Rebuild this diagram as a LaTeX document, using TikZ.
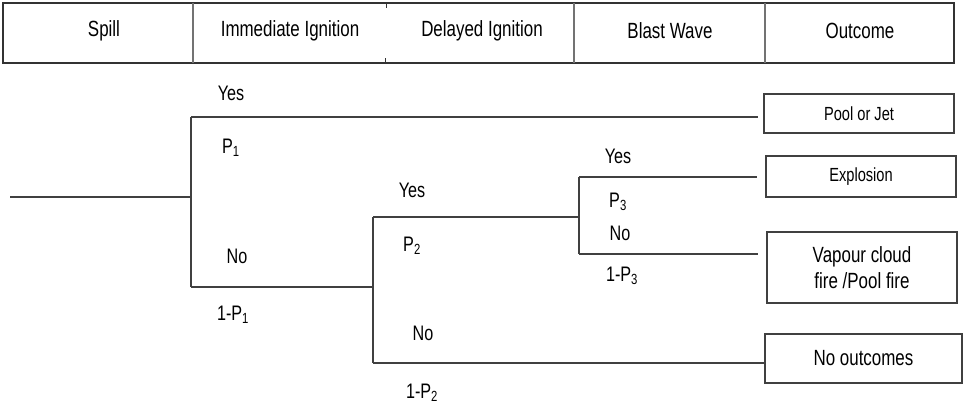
\documentclass[tikz,border=0pt]{standalone}
\usepackage{fontspec}
\setmainfont[FakeStretch=0.77]{Liberation Sans}
\begin{document}
\begin{tikzpicture}[x=1pt,y=-1pt,
  branch/.style={draw=black!75,line width=1.1pt},
  frame/.style={draw=black!80,line width=1.2pt},
  head/.style={font=\fontsize{22}{26}\selectfont,anchor=center,inner sep=0pt},
  lab/.style={font=\fontsize{21}{25}\selectfont,anchor=center,inner sep=0pt},
  outbox/.style={draw=black!75,line width=1.1pt,align=center,inner sep=2pt,
    font=\fontsize{22}{26}\selectfont}]
\useasboundingbox (0,0) rectangle (963,405);

% header row
\draw[frame] (3,3) rectangle (954,63);
\draw[frame,draw=black!55] (193,3) -- (193,63);
\draw[frame,draw=black!55] (574,3) -- (574,63);
\draw[frame,draw=black!55] (765,3) -- (765,63);
\draw[black!80,line width=0.8pt] (386,3) -- (386,8);
\draw[black!80,line width=0.8pt] (385,58) -- (385,63);
\node[head] (hspill) at (104,31) {Spill};
\node[head] (himm)   at (290,31) {Immediate Ignition};
\node[head] (hdel)   at (482,31) {Delayed Ignition};
\node[head] (hblast) at (670,31) {Blast Wave};
\node[head] (hout)   at (860,31) {Outcome};

% outcome boxes
\node[outbox,minimum width=190pt,minimum height=39pt,font=\fontsize{19}{22}\selectfont] (pool) at (859,113.5) {Pool or Jet};
\node[outbox,minimum width=190pt,minimum height=41pt,font=\fontsize{19}{22}\selectfont] (expl) at (861,176.5) {Explosion};
\node[outbox,minimum width=190pt,minimum height=71pt] (vapour) at (862,267.5) {Vapour cloud\\fire /Pool fire};
\node[outbox,minimum width=197pt,minimum height=49pt] (none) at (863.5,358.5) {No outcomes};

% branch points
\coordinate (start) at (10,197);
\coordinate (n1) at (191,197);
\coordinate (n1y) at (191,117);
\coordinate (n1n) at (191,287);
\coordinate (n2) at (373,287);
\coordinate (n2y) at (373,217);
\coordinate (n2n) at (373,363);
\coordinate (n3) at (579,217);
\coordinate (n3y) at (579,177);
\coordinate (n3n) at (579,254);
\coordinate (e1) at (758,117);
\coordinate (e3y) at (757,177);
\coordinate (e3n) at (758,254);

% event tree
\draw[branch] (start) -- (n1);
\draw[branch] (n1y) -- (n1n);
\draw[branch] (n1y) -- (e1);
\draw[branch] (n1n) -- (n2);
\draw[branch] (n2y) -- (n2n);
\draw[branch] (n2y) -- (n3);
\draw[branch] (n2n) -- (n2n -| none.west);
\draw[branch] (n3y) -- (n3n);
\draw[branch] (n3y) -- (e3y);
\draw[branch] (n3n) -- (e3n);

% branch labels
\node[lab] (y1)  at (231,93)  {Yes};
\node[lab] (p1)  at (231,148) {P\textsubscript{1}};
\node[lab] (no1) at (237,256) {No};
\node[lab] (q1)  at (233,315) {1-P\textsubscript{1}};
\node[lab] (y2)  at (412,190) {Yes};
\node[lab] (p2)  at (412,246) {P\textsubscript{2}};
\node[lab] (no2) at (423,333) {No};
\node[lab] (q2)  at (422,393) {1-P\textsubscript{2}};
\node[lab] (y3)  at (618,156) {Yes};
\node[lab] (p3)  at (618,202) {P\textsubscript{3}};
\node[lab] (no3) at (620,233) {No};
\node[lab] (q3)  at (622,276) {1-P\textsubscript{3}};
\end{tikzpicture}
\end{document}
